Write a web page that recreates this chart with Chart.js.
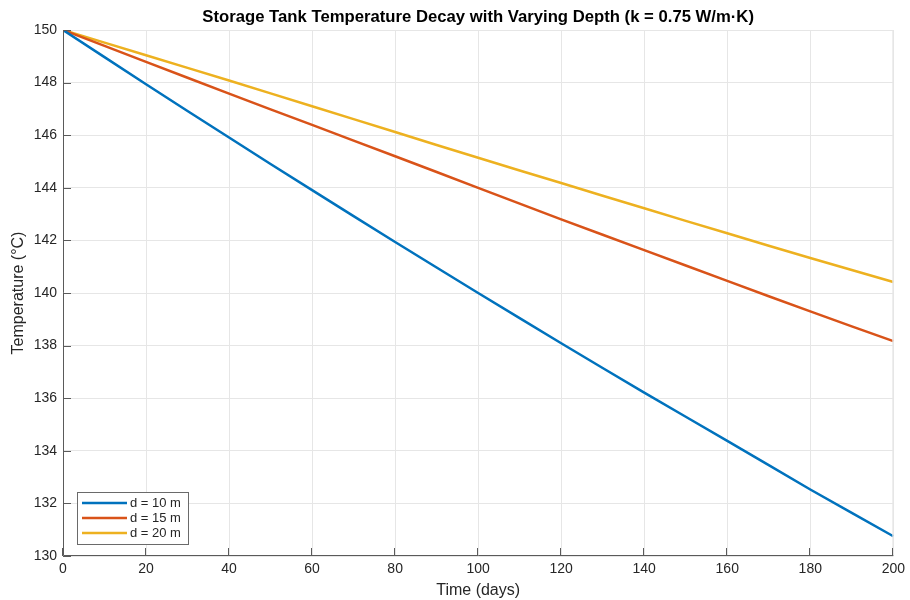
<!DOCTYPE html>
<html lang="en">
<head>
<meta charset="UTF-8">
<title>Storage Tank Temperature Decay</title>
<script src="https://cdn.jsdelivr.net/npm/chart.js"></script>
<style>
  html, body { margin: 0; padding: 0; background: #fff; }
  #wrap { width: 910px; height: 600px; }
</style>
</head>
<body>
<div id="wrap"><canvas id="chart" width="910" height="600"></canvas></div>
<script>
// values (every 20 days)
const days = [0, 20, 40, 60, 80, 100, 120, 140, 160, 180, 200];
const tempD10 = [150, 147.94, 145.91, 143.91, 141.94, 140.0, 138.09, 136.21, 134.38, 132.53, 130.75];
const tempD15 = [150, 148.79, 147.58, 146.39, 145.2, 144.0, 142.8, 141.63, 140.46, 139.3, 138.17];
const tempD20 = [150, 149.04, 148.08, 147.1, 146.12, 145.14, 144.18, 143.22, 142.27, 141.33, 140.42];
const seriesLabels = ['d = 10 m', 'd = 15 m', 'd = 20 m'];
const seriesColors = ['#0072BD', '#D95319', '#EDB120'];
const xTicks = [0, 20, 40, 60, 80, 100, 120, 140, 160, 180, 200];
const yTicks = [130, 132, 134, 136, 138, 140, 142, 144, 146, 148, 150];
const chartTitle = 'Storage Tank Temperature Decay with Varying Depth (k = 0.75 W/m·K)';

const FONT = '"Liberation Sans", Arial, Helvetica, sans-serif';
const toXY = vals => days.map((d, i) => ({ x: d, y: vals[i] }));

// title centred over the axes, left/bottom axis lines with inward ticks, legend inside
const axesPlugin = {
    id: 'matlabAxes',
    afterDraw(chart) {
        const { ctx, chartArea: a, scales } = chart;
        ctx.save();
        ctx.fillStyle = '#000';
        ctx.font = 'bold 16.7px ' + FONT;
        ctx.textAlign = 'center';
        ctx.textBaseline = 'middle';
        ctx.fillText(chartTitle, (a.left + a.right) / 2, 17);
        ctx.textAlign = 'left';

        // light frame on top and right
        ctx.strokeStyle = '#e6e6e6';
        ctx.lineWidth = 1;
        ctx.beginPath();
        ctx.moveTo(a.left, a.top + 0.5); ctx.lineTo(a.right - 0.5, a.top + 0.5); ctx.lineTo(a.right - 0.5, a.bottom);
        ctx.stroke();

        ctx.strokeStyle = '#5a5a5a';
        ctx.beginPath();
        ctx.moveTo(a.left + 0.5, a.top); ctx.lineTo(a.left + 0.5, a.bottom - 0.5); ctx.lineTo(a.right, a.bottom - 0.5);
        xTicks.forEach(v => {
            const px = Math.round(scales.x.getPixelForValue(v)) - 0.5;
            ctx.moveTo(px, a.bottom); ctx.lineTo(px, a.bottom - 8);
        });
        yTicks.forEach(v => {
            const py = Math.round(scales.y.getPixelForValue(v)) + 0.5;
            ctx.moveTo(a.left, py); ctx.lineTo(a.left + 8, py);
        });
        ctx.stroke();

        // legend
        const lx = a.left + 14, ly = a.bottom - 64, lw = 111, lh = 52;
        ctx.fillStyle = '#fff';
        ctx.fillRect(lx, ly, lw, lh);
        ctx.strokeStyle = '#6a6a6a';
        ctx.lineWidth = 1;
        ctx.strokeRect(lx + 0.5, ly + 0.5, lw, lh);
        ctx.font = '13px ' + FONT;
        chart.data.datasets.forEach((ds, i) => {
            const y = ly + 11 + i * 15;
            ctx.strokeStyle = ds.borderColor;
            ctx.lineWidth = 2.5;
            ctx.beginPath();
            ctx.moveTo(lx + 5, y); ctx.lineTo(lx + 50, y);
            ctx.stroke();
            ctx.fillStyle = '#262626';
            ctx.fillText(ds.label, lx + 53, y);
        });
        ctx.restore();
    }
};

new Chart(document.getElementById('chart'), {
    type: 'line',
    data: {
        datasets: [tempD10, tempD15, tempD20].map((vals, i) => ({
            label: seriesLabels[i],
            data: toXY(vals),
            borderColor: seriesColors[i],
            backgroundColor: seriesColors[i],
            borderWidth: 2.5,
            pointRadius: 0,
            tension: 0.3,
            fill: false
        }))
    },
    options: {
        responsive: false,
        animation: false,
        layout: { padding: { left: 0, right: 14, top: 30, bottom: 0 } },
        plugins: {
            legend: { display: false },
            tooltip: { enabled: false },
            title: { display: false }
        },
        scales: {
            x: {
                type: 'linear',
                min: 0, max: 200,
                afterBuildTicks: s => { s.ticks = xTicks.map(v => ({ value: v })); },
                afterFit: s => { s.height = 44; },
                grid: { color: '#e6e6e6', drawTicks: false },
                border: { display: false },
                ticks: { color: '#262626', font: { family: FONT, size: 14 }, padding: 5, maxRotation: 0 },
                title: { display: true, text: 'Time (days)', color: '#262626', font: { family: FONT, size: 16 }, padding: { top: 2, bottom: 0 } }
            },
            y: {
                type: 'linear',
                min: 130, max: 150,
                afterBuildTicks: s => { s.ticks = yTicks.map(v => ({ value: v })); },
                afterFit: s => { s.width = 63; },
                grid: { color: '#e6e6e6', drawTicks: false },
                border: { display: false },
                ticks: { color: '#262626', font: { family: FONT, size: 14 }, padding: 6 },
                title: { display: true, text: 'Temperature (°C)', color: '#262626', font: { family: FONT, size: 16 }, padding: { top: 9, bottom: 0 } }
            }
        }
    },
    plugins: [axesPlugin]
});
</script>
</body>
</html>
